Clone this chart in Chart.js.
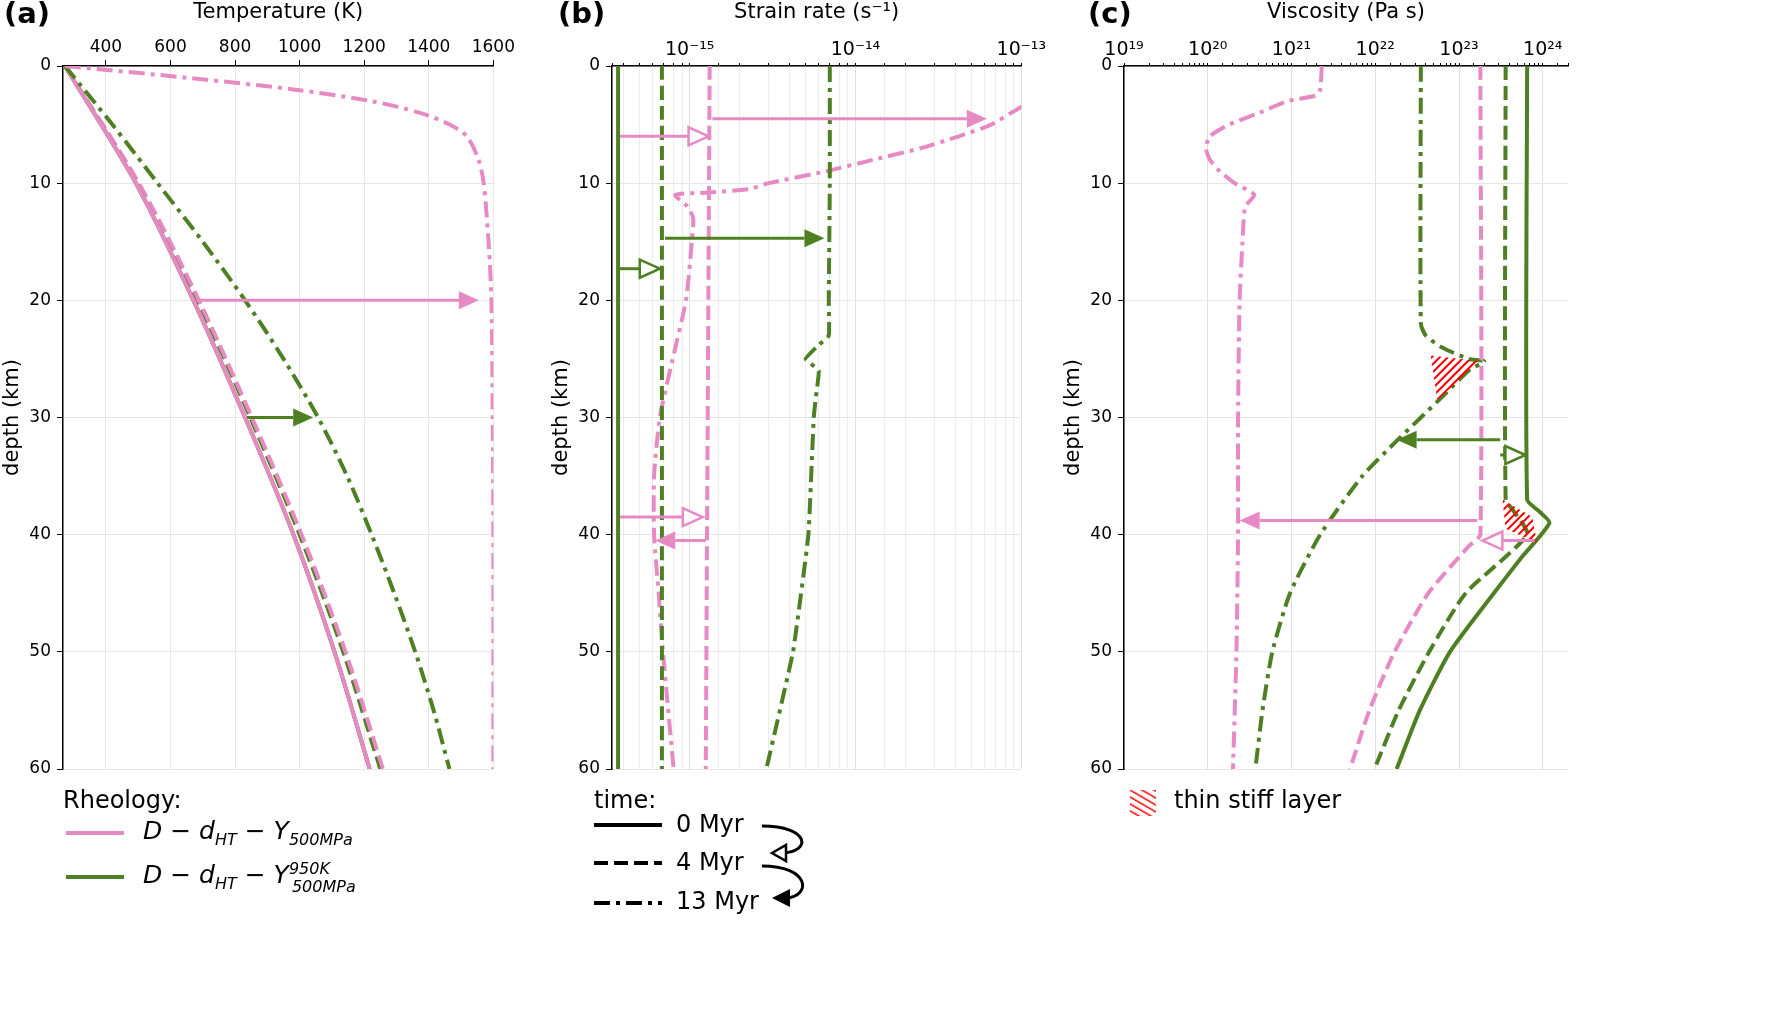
<!DOCTYPE html>
<html><head><meta charset="utf-8">
<script src="https://cdn.jsdelivr.net/npm/chart.js@4"></script>
<style>
body{margin:0;width:1772px;height:1035px;background:#fff;position:relative;font-family:"DejaVu Sans";overflow:hidden}
canvas{position:absolute;top:0}
.t{position:absolute;font-family:"DejaVu Sans";color:#000;white-space:nowrap}
.m{font-style:italic;font-size:25px}
.s{font-size:16px;font-style:italic;position:relative}
</style></head><body>
<canvas id="ca"></canvas><canvas id="cb"></canvas><canvas id="cc"></canvas>
<div class="t" style="left:4px;top:-4px;font-size:29px;font-weight:bold">(a)</div>
<div class="t" style="left:558px;top:-4px;font-size:29px;font-weight:bold">(b)</div>
<div class="t" style="left:1088px;top:-4px;font-size:29px;font-weight:bold">(c)</div>
<div class="t" style="left:63px;top:786px;font-size:24px">Rheology:</div>
<div class="t m" style="left:143px;top:816px">D − d<span class="s" style="top:6px">HT</span> − Y<span class="s" style="top:6px">500MPa</span></div>
<div class="t m" style="left:143px;top:860px">D − d<span class="s" style="top:6px">HT</span> − Y<span class="s" style="top:-9px">950K</span><span class="s" style="top:9px;left:-38px">500MPa</span></div>
<div class="t" style="left:594px;top:786px;font-size:24px">time:</div>
<div class="t" style="left:676px;top:810px;font-size:24px">0 Myr</div>
<div class="t" style="left:676px;top:848px;font-size:24px">4 Myr</div>
<div class="t" style="left:676px;top:887px;font-size:24px">13 Myr</div>
<div class="t" style="left:1174px;top:786px;font-size:24px">thin stiff layer</div>
<svg style="position:absolute;left:0;top:0" width="1772" height="1035">
<defs><pattern id="hp" width="6" height="6" patternUnits="userSpaceOnUse" patternTransform="rotate(-60)"><line x1="0" y1="0" x2="0" y2="6" stroke="red" stroke-width="3"/></pattern></defs>
<line x1="66" y1="833" x2="124" y2="833" stroke="#e78ac3" stroke-width="4"/>
<line x1="66" y1="877" x2="124" y2="877" stroke="#4e8023" stroke-width="4"/>
<line x1="594" y1="825" x2="662" y2="825" stroke="#000" stroke-width="4"/>
<line x1="594" y1="863" x2="662" y2="863" stroke="#000" stroke-width="4" stroke-dasharray="14,6"/>
<line x1="594" y1="903" x2="662" y2="903" stroke="#000" stroke-width="4" stroke-dasharray="16,6,4,6"/>
<path d="M762,826 C810,826 812,852 782,853" fill="none" stroke="#000" stroke-width="3"/>
<polygon points="772,853 786,845 786,861" fill="#fff" stroke="#000" stroke-width="2.5"/>
<path d="M762,866 C810,866 812,896 786,898" fill="none" stroke="#000" stroke-width="3"/>
<polygon points="772,898 790,889 790,907" fill="#000"/>
<rect x="1130" y="790" width="26" height="26" fill="url(#hp)"/>
</svg>
<script>
const PINK='#e78ac3', GREEN='#4e8023';
const DASH=[14,6], DASHDOT=[16,6,4,6];
// ---- Panel (a): temperature (K) vs depth (km)
const aDepthSolid=[0,10,20,30,40,50,60];
const aGreenSolid=[273,493,671,831,981,1108,1217];
const aPinkDashed=[273,502,688,852,1006,1142,1258];
const aGreenDashed=[273,499,684,847,1000,1135,1250];
const aDepthGDD=[0,5,10,15,20,25,30,35,40,45,50,55,60];
const aGreenDashDot=[273,420,560,700,831,950,1057,1147,1223,1293,1358,1415,1464];
const aDepthPDD=[0,1,2,3,4,5,6,8,10,15,20,30,40,60];
const aPinkDashDot=[273,650,980,1222,1373,1464,1518,1554,1570,1585,1594,1598,1600,1600];
const aArrows=[{d:20,x0:680,x1:1555,c:PINK,h:false},{d:30,x0:837,x1:1042,c:GREEN,h:false}];
// ---- Panel (b): strain rate (1/s)
const bDepthV=[0,60];
const bGreenSolid=[3.7e-16,3.7e-16];
const bGreenDashed=[6.8e-16,6.8e-16];
const bPinkDashed=[1.32e-15,1.25e-15];
const bDepthGDD=[0,10,20,23,24,25,26,28,30,40,50,60];
const bGreenDashDot=[7.0e-15,7.0e-15,6.9e-15,6.9e-15,5.8e-15,5.0e-15,6.0e-15,5.8e-15,5.6e-15,5.2e-15,4.2e-15,2.9e-15];
const bDepthPDD=[0,3,3.5,4,5,6,7,8,9,10,10.5,10.8,11,12,13,15,20,25,30,35,40,45,50,60];
const bPinkDashDot=[2e-13,1.2e-13,1e-13,8.7e-14,6.6e-14,4.2e-14,2.5e-14,1.28e-14,6.6e-15,3.0e-15,2.3e-15,1.3e-15,8.2e-16,9.7e-16,1.05e-15,1.03e-15,9.5e-16,7.9e-16,6.6e-16,6.1e-16,6.1e-16,6.5e-16,6.9e-16,8.0e-16];
const bArrows=[{d:6,x0:3.8e-16,x1:1.3e-15,c:PINK,h:true},{d:4.5,x0:1.37e-15,x1:6.2e-14,c:PINK,h:false},
 {d:14.7,x0:7.1e-16,x1:6.5e-15,c:GREEN,h:false},{d:17.3,x0:3.8e-16,x1:6.6e-16,c:GREEN,h:true},
 {d:38.5,x0:3.8e-16,x1:1.2e-15,c:PINK,h:true},{d:40.5,x0:1.25e-15,x1:6.2e-16,c:PINK,h:false}];
// ---- Panel (c): viscosity (Pa s)
const cDepthGS=[0,37,38,39,42,45,50,55,60];
const cGreenSolid=[6.5e23,6.5e23,9e23,1.2e24,5.5e23,2.6e23,7.8e22,3.4e22,1.8e22];
const cDepthGD=[0,37,38,40,45,50,55,60];
const cGreenDashed=[3.6e23,3.6e23,4.5e23,6.5e23,1.2e23,4.4e22,1.9e22,9.8e21];
const cDepthPD=[0,40,41,45,50,55,60];
const cPinkDashed=[1.8e23,1.8e23,1.3e23,4.3e22,1.7e22,8.5e21,5e21];
const cDepthGDD=[0,22,23,24,25,25.2,26,28,30,32,35,40,45,50,55,60];
const cGreenDashDot=[3.5e22,3.5e22,4.0e22,6.2e22,1.3e23,2.0e23,1.3e23,6.8e22,3.5e22,1.8e22,7.0e21,2.2e21,9.6e20,5.9e20,4.5e20,3.7e20];
const cDepthPDD=[0,2,2.5,3,4,5,6,7,8,9,10,11,12,15,20,30,40,50,60];
const cPinkDashDot=[2.3e21,2.2e21,2.0e21,9e20,4.1e20,1.8e20,1.06e20,9.5e19,1.06e20,1.4e20,2.1e20,3.6e20,2.8e20,2.6e20,2.4e20,2.3e20,2.3e20,2.2e20,2.0e20];
const cArrows=[{d:31.9,x0:3.1e23,x1:1.8e22,c:GREEN,h:false},{d:33.2,x0:3.1e23,x1:6.2e23,c:GREEN,h:true},
 {d:38.8,x0:1.65e23,x1:2.4e20,c:PINK,h:false},{d:40.5,x0:8e23,x1:1.9e23,c:PINK,h:true}];
const cHatch=[[[24.7,4.6e22],[25.2,1.8e23],[28.5,5.5e22]],[[37,3.3e23],[38.5,7.5e23],[40.7,8.5e23],[39.5,3.6e23]]];

function ser(depths,vals,color,dash,tens){return{data:depths.map((d,i)=>({x:vals[i],y:d})),borderColor:color,borderWidth:4,borderDash:dash,pointRadius:0,fill:false,tension:tens===undefined?0.3:tens};}
const sup={'-':'⁻','0':'⁰','1':'¹','2':'²','3':'³','4':'⁴','5':'⁵','6':'⁶','7':'⁷','8':'⁸','9':'⁹'};
function pow10lbl(v){if(!(v>0))return '';const e=Math.round(Math.log10(v));if(Math.abs(v/Math.pow(10,e)-1)>1e-6)return '';return '10'+String(e).split('').map(c=>sup[c]).join('');}
let pat;
(function(){const c=document.createElement('canvas');c.width=8;c.height=8;const g=c.getContext('2d');g.strokeStyle='red';g.lineWidth=2;
 g.beginPath();g.moveTo(0,8);g.lineTo(8,0);g.moveTo(-2,2);g.lineTo(2,-2);g.moveTo(6,10);g.lineTo(10,6);g.stroke();pat=g.createPattern(c,'repeat');})();

function arrowPlugin(arrows,hatch){return{id:'arr',afterDatasetsDraw(ch){const g=ch.ctx,xs=ch.scales.x,ys=ch.scales.y;g.save();
 if(hatch){hatch.forEach(poly=>{g.beginPath();poly.forEach((p,i)=>{const X=xs.getPixelForValue(p[1]),Y=ys.getPixelForValue(p[0]);i?g.lineTo(X,Y):g.moveTo(X,Y);});g.closePath();g.fillStyle=pat;g.fill();});}
 arrows.forEach(a=>{const y=ys.getPixelForValue(a.d),x0=xs.getPixelForValue(a.x0),x1=xs.getPixelForValue(a.x1),s=Math.sign(x1-x0),L=20,W=9;
  g.strokeStyle=a.c;g.lineWidth=3;g.setLineDash([]);g.beginPath();g.moveTo(x0,y);g.lineTo(x1-s*L,y);g.stroke();
  g.beginPath();g.moveTo(x1,y);g.lineTo(x1-s*L,y-W);g.lineTo(x1-s*L,y+W);g.closePath();
  if(a.h){g.fillStyle='#fff';g.fill();g.lineWidth=2.5;g.stroke();}else{g.fillStyle=a.c;g.fill();}});
 g.restore();}};}

function make(id,plotLeft,plotW,xOpts,datasets,arrows,hatch){
 const cv=document.getElementById(id);const W=63+plotW+12;cv.width=W;cv.height=1035;cv.style.left=(plotLeft-63)+'px';
 const font={family:'DejaVu Sans',size:17};
 new Chart(cv,{type:'line',data:{datasets},plugins:[arrowPlugin(arrows,hatch)],options:{
  responsive:false,animation:false,devicePixelRatio:1,layout:{padding:{top:0,right:12,bottom:266,left:0}},
  plugins:{legend:{display:false},tooltip:{enabled:false}},
  scales:{x:Object.assign({position:'top',border:{color:'#000',width:1.5},afterFit(s){s.height=66;},
     title:{display:true,text:xOpts.title,color:'#000',font:{family:'DejaVu Sans',size:21},padding:{top:0,bottom:0}},
     },xOpts.cfg),
   y:{type:'linear',reverse:true,min:0,max:60,afterFit(s){s.width=63;},border:{color:'#000',width:1.5},
     ticks:{stepSize:10,color:'#000',font,padding:6},grid:{color:'#e6e6e6',tickColor:'#000',tickLength:6},
     title:{display:true,text:'depth (km)',color:'#000',font:{family:'DejaVu Sans',size:21},padding:{top:0,bottom:2}}}}}});
}
make('ca',63,442,{title:'Temperature (K)',cfg:{type:'linear',min:267,max:1600,
  afterBuildTicks(s){s.ticks=[400,600,800,1000,1200,1400,1600].map(v=>({value:v}));},
  ticks:{color:'#000',font:{family:'DejaVu Sans',size:17},padding:2,maxRotation:0,callback:v=>String(v)},grid:{color:'#e6e6e6',tickColor:'#000',tickLength:6}}},
 [ser(aDepthPDD,aPinkDashDot,PINK,DASHDOT),ser(aDepthGDD,aGreenDashDot,GREEN,DASHDOT),ser(aDepthSolid,aGreenSolid,PINK,[]),ser(aDepthSolid,aGreenSolid,GREEN,[]),
  ser(aDepthSolid,aPinkDashed,PINK,DASH),ser(aDepthSolid,aGreenDashed,GREEN,DASH)],aArrows);
const isMaj=c=>!!(c&&c.tick&&pow10lbl(c.tick.value));
const logCfg=(min,max,minorGrid)=>({type:'logarithmic',min,max,
  ticks:{color:'#000',font:{family:'DejaVu Sans',size:19},padding:2,maxRotation:0,autoSkip:false,callback:v=>pow10lbl(v)},
  grid:{color:c=>isMaj(c)?'#e0e0e0':(minorGrid?'#ececec':'rgba(0,0,0,0)'),tickColor:'#000',tickLength:c=>isMaj(c)?6:3}});
make('cb',612,424,{title:'Strain rate (s⁻¹)',cfg:logCfg(3.4e-16,1e-13,true)},
 [ser(bDepthV,bGreenSolid,GREEN,[]),ser(bDepthV,bGreenDashed,GREEN,DASH),ser(bDepthV,bPinkDashed,PINK,DASH),
  ser(bDepthGDD,bGreenDashDot,GREEN,DASHDOT,0.1),ser(bDepthPDD,bPinkDashDot,PINK,DASHDOT,0.2)],bArrows);
make('cc',1124,444,{title:'Viscosity (Pa s)',cfg:logCfg(1e19,2e24,false)},
 [ser(cDepthGS,cGreenSolid,GREEN,[],0.2),ser(cDepthGD,cGreenDashed,GREEN,DASH,0.2),ser(cDepthPD,cPinkDashed,PINK,DASH,0.2),
  ser(cDepthGDD,cGreenDashDot,GREEN,DASHDOT,0.2),ser(cDepthPDD,cPinkDashDot,PINK,DASHDOT,0.2)],cArrows,cHatch);
</script></body></html>
